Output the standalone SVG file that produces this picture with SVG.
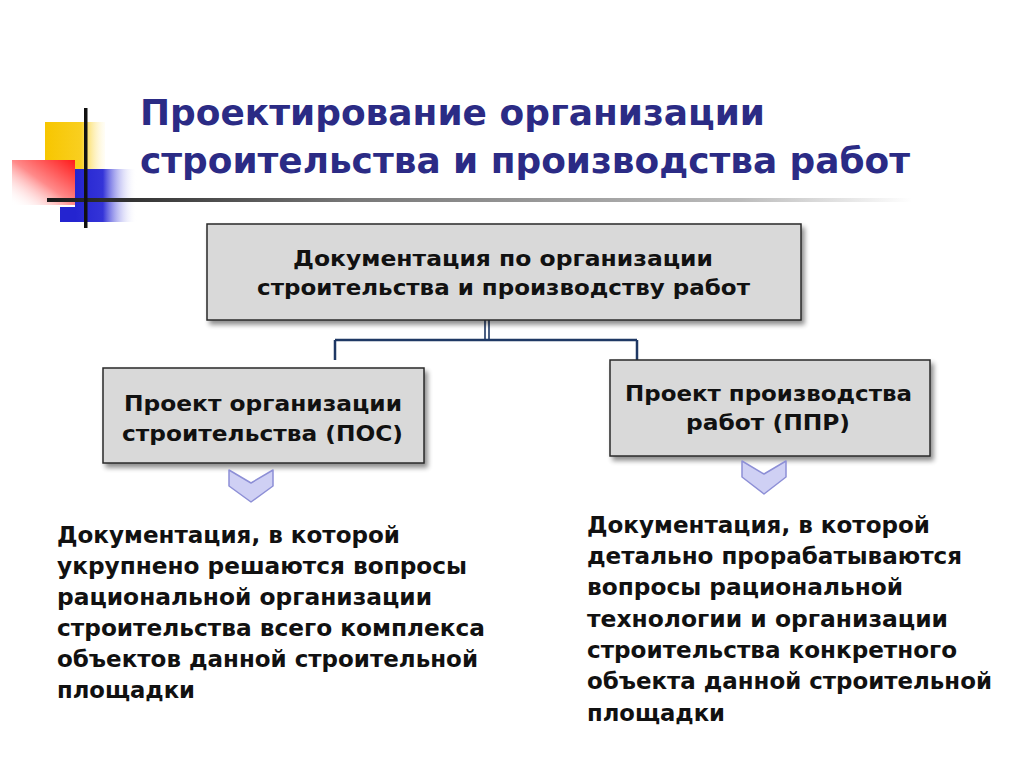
<svg xmlns="http://www.w3.org/2000/svg" width="1024" height="767" viewBox="0 0 1024 767">
  <defs>
    <linearGradient id="gYellow" x1="0" y1="0" x2="1" y2="0">
      <stop offset="0" stop-color="#f7c600"/>
      <stop offset="0.6" stop-color="#f9cf20"/>
      <stop offset="1" stop-color="#fff6d0" stop-opacity="0.2"/>
    </linearGradient>
    <linearGradient id="gRed" x1="1" y1="0" x2="0" y2="1">
      <stop offset="0" stop-color="#ff1a1a"/>
      <stop offset="0.5" stop-color="#ff8a8a"/>
      <stop offset="1" stop-color="#ffffff" stop-opacity="0"/>
    </linearGradient>
    <linearGradient id="gBlue" x1="0" y1="0" x2="1" y2="0">
      <stop offset="0" stop-color="#2424d0"/>
      <stop offset="0.45" stop-color="#3434d8"/>
      <stop offset="1" stop-color="#ffffff" stop-opacity="0"/>
    </linearGradient>
    <linearGradient id="gLine" x1="0" y1="0" x2="1" y2="0">
      <stop offset="0" stop-color="#1a1a1a"/>
      <stop offset="0.35" stop-color="#777777"/>
      <stop offset="0.8" stop-color="#bbbbbb"/>
      <stop offset="1" stop-color="#ffffff"/>
    </linearGradient>
    <filter id="shadow" x="-5%" y="-10%" width="115%" height="130%">
      <feGaussianBlur in="SourceAlpha" stdDeviation="2.5"/>
      <feOffset dx="3" dy="4" result="b"/>
      <feComponentTransfer><feFuncA type="linear" slope="0.45"/></feComponentTransfer>
      <feMerge><feMergeNode/><feMergeNode in="SourceGraphic"/></feMerge>
    </filter>
    <style>
      .title { font-family: "DejaVu Sans", "Liberation Sans", sans-serif; font-weight: bold; font-size: 36px; fill: #2b2b85; }
      .box { fill: #d9d9d9; stroke: #2a2a2a; stroke-width: 1.5; filter: url(#shadow); }
      .btxt { font-family: "DejaVu Sans", "Liberation Sans", sans-serif; font-weight: bold; font-size: 22px; fill: #111111; }
      .body { font-family: "DejaVu Sans", "Liberation Sans", sans-serif; font-weight: bold; font-size: 23px; fill: #111111; }
      .conn { fill: none; stroke: #1f3864; stroke-width: 2.5; }
      .stem { fill: none; stroke: #1f3864; stroke-width: 1.6; }
      .chev { fill: #cfd0f4; stroke: #8d8fd6; stroke-width: 1.5; stroke-linejoin: round; }
    </style>
  </defs>
  <rect width="1024" height="767" fill="#ffffff"/>

  <g id="decoration">
    <rect x="45" y="122" width="60" height="48" fill="url(#gYellow)"/>
    <rect x="12" y="160" width="63" height="45" fill="url(#gRed)"/>
    <rect x="75" y="169" width="62" height="53" fill="url(#gBlue)"/>
    <rect x="60" y="207" width="16" height="15" fill="#2424d0"/>
    <rect x="47" y="198" width="865" height="4" fill="url(#gLine)"/>
    <rect x="84" y="108" width="3.5" height="120" fill="#111111"/>
  </g>

  <g id="title">
    <text class="title" x="140" y="125" textLength="625" lengthAdjust="spacingAndGlyphs">Проектирование организации</text>
    <text class="title" x="140" y="173" textLength="770" lengthAdjust="spacingAndGlyphs">строительства и производства работ</text>
  </g>

  <g id="connectors">
    <path class="stem" d="M485 320 V340 M489 320 V340"/>
    <path class="conn" d="M335 340 H637 M335 340 V360 M637 340 V360"/>
  </g>

  <g id="node-top">
    <rect class="box" x="207" y="224" width="594" height="96"/>
    <text class="btxt" x="293" y="266" textLength="420" lengthAdjust="spacingAndGlyphs">Документация по организации</text>
    <text class="btxt" x="257" y="295" textLength="493" lengthAdjust="spacingAndGlyphs">строительства и производству работ</text>
  </g>

  <g id="node-pos">
    <rect class="box" x="103" y="368" width="321" height="95"/>
    <text class="btxt" x="124" y="411" textLength="278" lengthAdjust="spacingAndGlyphs">Проект организации</text>
    <text class="btxt" x="122" y="441" textLength="281" lengthAdjust="spacingAndGlyphs">строительства (ПОС)</text>
  </g>

  <g id="node-ppr">
    <rect class="box" x="610" y="360" width="320" height="96"/>
    <text class="btxt" x="625" y="401" textLength="287" lengthAdjust="spacingAndGlyphs">Проект производства</text>
    <text class="btxt" x="686" y="430" textLength="164" lengthAdjust="spacingAndGlyphs">работ (ППР)</text>
  </g>

  <g id="chevron-left">
    <path class="chev" d="M229 470 L251 483 L273 470 L273 486 L251 502 L229 486 Z"/>
  </g>
  <g id="chevron-right">
    <path class="chev" d="M742 461 L764 474 L786 461 L786 477 L764 494 L742 477 Z"/>
  </g>

  <g id="text-left">
    <text class="body" x="57" y="543" textLength="343" lengthAdjust="spacingAndGlyphs">Документация, в которой</text>
    <text class="body" x="57" y="574" textLength="410" lengthAdjust="spacingAndGlyphs">укрупнено решаются вопросы</text>
    <text class="body" x="57" y="605" textLength="375" lengthAdjust="spacingAndGlyphs">рациональной организации</text>
    <text class="body" x="57" y="636" textLength="428" lengthAdjust="spacingAndGlyphs">строительства всего комплекса</text>
    <text class="body" x="57" y="667" textLength="421" lengthAdjust="spacingAndGlyphs">объектов данной строительной</text>
    <text class="body" x="57" y="698" textLength="138" lengthAdjust="spacingAndGlyphs">площадки</text>
  </g>

  <g id="text-right">
    <text class="body" x="587" y="533" textLength="343" lengthAdjust="spacingAndGlyphs">Документация, в которой</text>
    <text class="body" x="587" y="564" textLength="375" lengthAdjust="spacingAndGlyphs">детально прорабатываются</text>
    <text class="body" x="587" y="595" textLength="316" lengthAdjust="spacingAndGlyphs">вопросы рациональной</text>
    <text class="body" x="587" y="627" textLength="361" lengthAdjust="spacingAndGlyphs">технологии и организации</text>
    <text class="body" x="587" y="658" textLength="370" lengthAdjust="spacingAndGlyphs">строительства конкретного</text>
    <text class="body" x="587" y="689" textLength="405" lengthAdjust="spacingAndGlyphs">объекта данной строительной</text>
    <text class="body" x="587" y="721" textLength="138" lengthAdjust="spacingAndGlyphs">площадки</text>
  </g>
</svg>
